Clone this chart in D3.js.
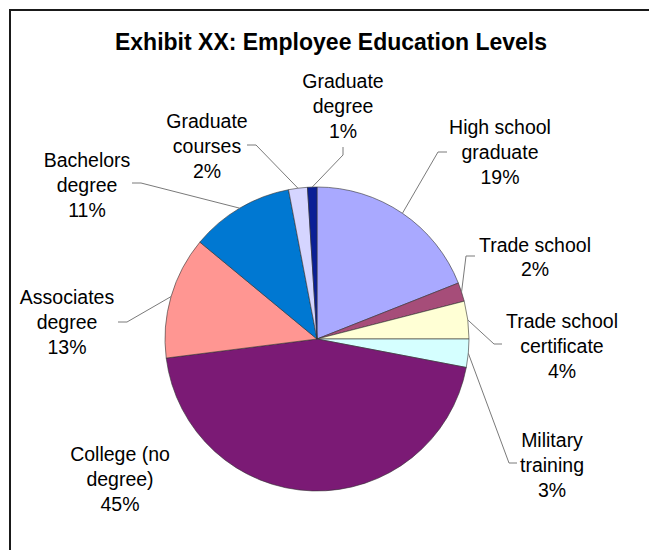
<!DOCTYPE html>
<html>
<head>
<meta charset="utf-8">
<script src="https://cdn.jsdelivr.net/npm/d3@7/dist/d3.min.js"></script>
<style>
  html, body { margin: 0; padding: 0; background: #fff; }
  svg { display: block; }
  text { font-family: "Liberation Sans", Arial, sans-serif; fill: #000; }
</style>
</head>
<body>
<svg id="chart" width="649" height="550"></svg>
<script>
// Education levels, clockwise from 12 o'clock
const categories = [
  "High school graduate",
  "Trade school",
  "Trade school certificate",
  "Military training",
  "College (no degree)",
  "Associates degree",
  "Bachelors degree",
  "Graduate courses",
  "Graduate degree"
];
const percents = [19, 2, 4, 3, 45, 13, 11, 2, 1];
const labelLines = [
  ["High school", "graduate"],
  ["Trade school"],
  ["Trade school", "certificate"],
  ["Military", "training"],
  ["College (no", "degree)"],
  ["Associates", "degree"],
  ["Bachelors", "degree"],
  ["Graduate", "courses"],
  ["Graduate", "degree"]
];
const colors = ["#A9A9FF", "#A64D79", "#FFFFD5", "#D5FFFF", "#7B1A75",
                "#FF9692", "#0078D2", "#D5D5FF", "#0A1F96"];

// Label placement relative to the pie centre: text block centre and
// the short leader tick (outer end first, inner end second).
const labelLayout = [
  { cx: 183, cy: -187, tick: [130, -187, 121, -187] },
  { cx: 218, cy: -82,  tick: [158, -83, 149, -83] },
  { cx: 245, cy: 7,    tick: [185, 5, 177, 5] },
  { cx: 235, cy: 126,  tick: [200, 124, 192, 124] },
  { cx: -197, cy: 140, tick: null },
  { cx: -250, cy: -17, tick: [-199, -17, -190, -17] },
  { cx: -230, cy: -154, tick: [-185, -156, -176, -156] },
  { cx: -110, cy: -193, tick: [-70, -194, -61, -194] },
  { cx: 26, cy: -233,  tick: [26, -192, 26, -184] }
];

const W = 649, H = 550;
const cx = 317, cy = 339, R = 152;
const fontSize = 19.5, lineH = 24.8;

const svg = d3.select("#chart");

// Chart area frame (runs off the right and bottom edges)
svg.append("rect")
  .attr("x", 10).attr("y", 10)
  .attr("width", 700).attr("height", 600)
  .attr("fill", "#fff")
  .attr("stroke", "#1a1a1a")
  .attr("stroke-width", 2);

svg.append("text")
  .attr("x", 331).attr("y", 50)
  .attr("text-anchor", "middle")
  .style("font-size", "23px")
  .style("font-weight", "bold")
  .text("Exhibit XX: Employee Education Levels");

const data = categories.map((c, i) => ({ name: c, value: percents[i], i }));

const pie = d3.pie().value(d => d.value).sort(null);
const arcs = pie(data);
const arc = d3.arc().innerRadius(0).outerRadius(R);
const rim = d3.arc().innerRadius(R).outerRadius(R);

const g = svg.append("g").attr("transform", `translate(${cx},${cy})`);

g.selectAll("path.slice")
  .data(arcs)
  .join("path")
  .attr("class", "slice")
  .attr("d", arc)
  .attr("fill", d => colors[d.data.i])
  .attr("stroke", "#333")
  .attr("stroke-width", 0.6)
  .attr("stroke-linejoin", "round");

// Leader lines from label tick to the slice rim
g.selectAll("path.leader")
  .data(arcs.filter(d => labelLayout[d.data.i].tick))
  .join("path")
  .attr("class", "leader")
  .attr("fill", "none")
  .attr("stroke", "#7a7a7a")
  .attr("stroke-width", 1)
  .attr("d", d => {
    const t = labelLayout[d.data.i].tick;
    const p = rim.centroid(d);
    return d3.line()([[t[0], t[1]], [t[2], t[3]], p]);
  });

// Labels: name lines followed by the percentage
const labels = g.selectAll("text.lbl")
  .data(arcs)
  .join("text")
  .attr("class", "lbl")
  .attr("text-anchor", "middle")
  .style("font-size", fontSize + "px");

labels.each(function(d) {
  const L = labelLayout[d.data.i];
  const lines = labelLines[d.data.i].concat([d.data.value + "%"]);
  const top = L.cy - (lines.length - 1) * lineH / 2;
  const t = d3.select(this);
  lines.forEach((s, k) => {
    t.append("tspan")
      .attr("x", L.cx)
      .attr("y", top + k * lineH + fontSize * 0.36)
      .text(s);
  });
});
</script>
</body>
</html>
